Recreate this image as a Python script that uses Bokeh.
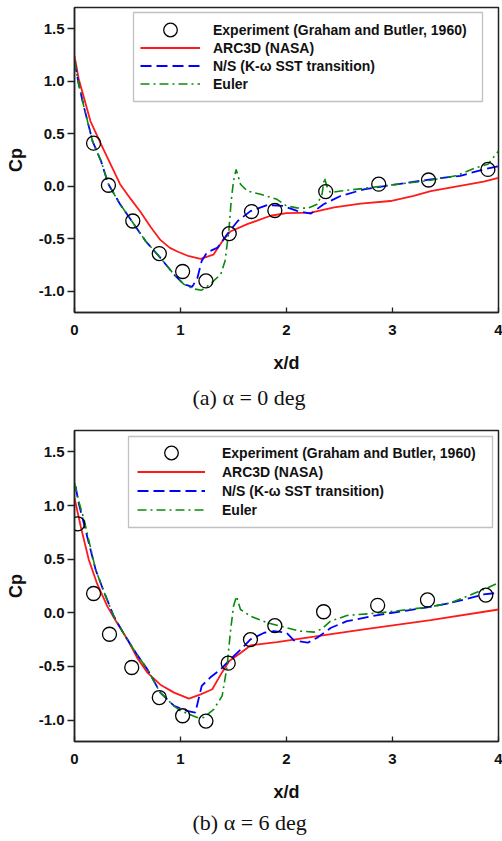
from bokeh.plotting import figure
from bokeh.layouts import column
from bokeh.models import (Range1d, Legend, LegendItem, Title, FixedTicker, PrintfTickFormatter,
                          BoxAnnotation)
from bokeh.embed import file_html
from bokeh.resources import INLINE

# ---------------- data: panel (a) alpha = 0 deg ----------------
exp_a_x = [0.18, 0.32, 0.55, 0.80, 1.02, 1.24, 1.46, 1.67, 1.89, 2.37, 2.87, 3.34, 3.90]
exp_a_y = [0.41, 0.01, -0.33, -0.64, -0.81, -0.90, -0.45, -0.24, -0.23, -0.05, 0.02, 0.06, 0.16]

arc_a_x = [0.00, 0.04, 0.09, 0.15, 0.25, 0.34, 0.43, 0.53, 0.62, 0.72, 0.81, 0.90, 0.97, 1.08, 1.19,
           1.31, 1.39, 1.47, 1.63, 1.85, 2.00, 2.23, 2.45, 2.70, 2.98, 3.20, 3.36, 3.61, 3.86, 4.00]
arc_a_y = [1.24, 1.02, 0.84, 0.62, 0.40, 0.21, 0.02, -0.12, -0.24, -0.39, -0.51, -0.585, -0.62, -0.665, -0.69,
           -0.65, -0.53, -0.43, -0.36, -0.28, -0.255, -0.25, -0.20, -0.165, -0.14, -0.092, -0.045, 0.00, 0.045, 0.08]

ns_a_x = [0.00, 0.04, 0.09, 0.17, 0.25, 0.32, 0.43, 0.54, 0.67, 0.81, 0.94, 1.03, 1.11, 1.16, 1.20, 1.25,
          1.35, 1.44, 1.54, 1.66, 1.82, 1.97, 2.10, 2.23, 2.35, 2.51, 2.73, 3.04, 3.36, 3.64, 3.86, 4.00]
ns_a_y = [1.19, 0.97, 0.75, 0.43, 0.24, 0.02, -0.17, -0.33, -0.52, -0.68, -0.84, -0.93, -0.956, -0.87, -0.71, -0.63,
          -0.583, -0.456, -0.33, -0.236, -0.178, -0.187, -0.234, -0.26, -0.171, -0.092, -0.029, 0.019, 0.066, 0.10, 0.16, 0.19]

eu_a_x = [0.00, 0.04, 0.09, 0.17, 0.25, 0.32, 0.43, 0.54, 0.67, 0.81, 0.94, 1.03, 1.12, 1.20, 1.28, 1.38,
          1.42, 1.456, 1.478, 1.50, 1.525, 1.566, 1.63, 1.755, 1.91, 2.00, 2.10, 2.20, 2.29, 2.335, 2.358,
          2.38, 2.415, 2.51, 2.73, 3.04, 3.36, 3.60, 3.77, 3.90, 4.00]
eu_a_y = [1.19, 0.97, 0.75, 0.43, 0.24, 0.02, -0.17, -0.33, -0.52, -0.68, -0.84, -0.93, -0.975, -0.988, -0.93, -0.836,
          -0.71, -0.425, -0.14, 0.05, 0.16, 0.02, -0.045, -0.076, -0.124, -0.187, -0.205, -0.209, -0.171, -0.076, 0.082,
          0.003, -0.06, -0.045, -0.02, 0.019, 0.057, 0.10, 0.17, 0.21, 0.335]

# ---------------- data: panel (b) alpha = 6 deg ----------------
exp_b_x = [0.03, 0.18, 0.33, 0.54, 0.80, 1.02, 1.24, 1.45, 1.66, 1.89, 2.35, 2.86, 3.33, 3.88]
exp_b_y = [0.83, 0.18, -0.20, -0.51, -0.79, -0.96, -1.01, -0.47, -0.25, -0.12, 0.01, 0.07, 0.12, 0.165]

arc_b_x = [0.00, 0.06, 0.135, 0.21, 0.31, 0.40, 0.50, 0.59, 0.69, 0.81, 0.94, 1.08, 1.19, 1.30, 1.39,
           1.46, 1.57, 1.66, 1.91, 2.26, 2.73, 3.36, 4.00]
arc_b_y = [1.07, 0.80, 0.495, 0.28, 0.06, -0.093, -0.248, -0.418, -0.56, -0.67, -0.744, -0.80, -0.76, -0.713, -0.558,
           -0.45, -0.372, -0.304, -0.273, -0.223, -0.155, -0.068, 0.031]

ns_b_x = [0.01, 0.04, 0.12, 0.20, 0.28, 0.37, 0.48, 0.59, 0.69, 0.81, 0.94, 1.06, 1.14, 1.17, 1.20, 1.28, 1.38,
          1.47, 1.57, 1.66, 1.79, 1.88, 2.00, 2.07, 2.20, 2.29, 2.42, 2.57, 2.89, 3.36, 3.55, 3.86, 3.99]
ns_b_y = [1.18, 1.02, 0.71, 0.40, 0.19, -0.03, -0.22, -0.39, -0.53, -0.744, -0.868, -0.914, -0.93, -0.806, -0.682,
          -0.604, -0.527, -0.434, -0.341, -0.248, -0.186, -0.171, -0.186, -0.257, -0.279, -0.232, -0.139, -0.078,
          -0.016, 0.056, 0.093, 0.171, 0.186]

eu_b_x = [0.00, 0.04, 0.09, 0.20, 0.28, 0.37, 0.48, 0.59, 0.69, 0.81, 0.94, 1.00, 1.157, 1.22, 1.314, 1.393,
          1.44, 1.47, 1.50, 1.528, 1.566, 1.66, 1.82, 2.00, 2.13, 2.26, 2.335, 2.415, 2.57, 2.89, 3.36, 3.55, 3.86, 4.00]
eu_b_y = [1.21, 1.04, 0.87, 0.40, 0.19, -0.03, -0.22, -0.39, -0.53, -0.745, -0.87, -0.914, -0.976, -0.976, -0.90,
          -0.775, -0.496, -0.186, 0.061, 0.155, 0.031, -0.031, -0.093, -0.14, -0.171, -0.18, -0.149, -0.078, -0.025,
          0.0, 0.056, 0.093, 0.217, 0.28]

x_ticks = [0, 1, 2, 3, 4]
y_ticks = [-1.0, -0.5, 0.0, 0.5, 1.0, 1.5]
legend_labels = ["Experiment (Graham and Butler, 1960)", "ARC3D (NASA)",
                 "N/S (K-\u03c9 SST transition)", "Euler"]
captions = ["(a) \u03b1 = 0 deg", "(b) \u03b1 = 6 deg"]

FONT = "Liberation Sans"


def make_panel(exp_x, exp_y, arc_x, arc_y, ns_x, ns_y, eu_x, eu_y, caption,
               height, top, bottom, box, leg_loc, glyph_w, standoff, spacing, cap_standoff):
    p = figure(width=502, height=height, x_range=Range1d(0, 4), y_range=Range1d(-1.2, 1.7),
               output_backend="svg", toolbar_location=None,
               min_border_left=74, min_border_right=4, min_border_top=top, min_border_bottom=bottom)
    p.grid.visible = False
    p.outline_line_color = "#222222"
    p.outline_line_width = 1.5
    p.background_fill_color = "white"
    p.border_fill_color = "white"

    r_arc = p.line(arc_x, arc_y, line_color="#ff1a1a", line_width=1.8)
    r_ns = p.line(ns_x, ns_y, line_color="#0000ff", line_width=1.8, line_dash="11 5")
    r_eu = p.line(eu_x, eu_y, line_color="#0a8a0a", line_width=1.6, line_dash="9 4 2 4")
    r_exp = p.ellipse(x=exp_x, y=exp_y, width=14, height=14, width_units="screen",
                      height_units="screen", fill_color=None, line_color="black", line_width=1.3)

    for ax in (p.xaxis[0], p.yaxis[0]):
        ax.axis_line_color = "#222222"
        ax.axis_line_width = 1.5
        ax.major_tick_line_color = "#222222"
        ax.major_tick_line_width = 1.3
        ax.minor_tick_line_color = None
        ax.major_label_text_font = FONT
        ax.major_label_text_font_style = "bold"
        ax.major_label_text_font_size = "15px"
        ax.major_label_text_color = "#111111"
        ax.axis_label_text_font = FONT
        ax.axis_label_text_font_style = "bold"
        ax.axis_label_text_font_size = "18px"
        ax.axis_label_text_color = "#111111"

    p.xaxis.ticker = FixedTicker(ticks=x_ticks)
    p.xaxis.major_tick_in = 5
    p.xaxis.major_tick_out = 0
    p.xaxis.major_label_standoff = 12
    p.xaxis.axis_label = "x/d"
    p.xaxis.axis_label_standoff = 15

    p.yaxis.ticker = FixedTicker(ticks=y_ticks)
    p.yaxis.formatter = PrintfTickFormatter(format="%.1f")
    p.yaxis.major_tick_in = 0
    p.yaxis.major_tick_out = 7
    p.yaxis.major_label_standoff = 3
    p.yaxis.axis_label = "Cp"
    p.yaxis.axis_label_standoff = 10

    # legend frame (white box with a dark border) in canvas pixels
    p.add_layout(BoxAnnotation(left=box[0], right=box[1], top=box[2], bottom=box[3],
                               left_units="canvas", right_units="canvas",
                               top_units="canvas", bottom_units="canvas",
                               fill_color="white", fill_alpha=1.0,
                               line_color="#333333", line_width=1.3, level="annotation"))

    legend = Legend(items=[
        LegendItem(label=legend_labels[0], renderers=[r_exp]),
        LegendItem(label=legend_labels[1], renderers=[r_arc]),
        LegendItem(label=legend_labels[2], renderers=[r_ns]),
        LegendItem(label=legend_labels[3], renderers=[r_eu]),
    ], location=leg_loc)
    legend.label_text_font = FONT
    legend.label_text_font_style = "bold"
    legend.label_text_font_size = "14px"
    legend.label_text_color = "#111111"
    legend.glyph_width = glyph_w
    legend.glyph_height = 17
    legend.label_height = 16
    legend.label_standoff = standoff
    legend.spacing = spacing
    legend.padding = 0
    legend.margin = 0
    legend.border_line_color = None
    legend.background_fill_alpha = 0.0
    p.add_layout(legend, "center")

    t = Title(text=caption, align="left", vertical_align="top", text_font="Liberation Serif",
              text_font_size="22px", text_font_style="normal", text_color="#111111",
              offset=118, standoff=cap_standoff)
    p.add_layout(t, "below")
    return p


p1 = make_panel(exp_a_x, exp_a_y, arc_a_x, arc_a_y, ns_a_x, ns_a_y, eu_a_x, eu_a_y, captions[0],
                height=420, top=7, bottom=108, box=(133, 482, 12, 101),
                leg_loc=(66, 220), glyph_w=60, standoff=13, spacing=1, cap_standoff=18)
p2 = make_panel(exp_b_x, exp_b_y, arc_b_x, arc_b_y, ns_b_x, ns_b_y, eu_b_x, eu_b_y, captions[1],
                height=421, top=10, bottom=99, box=(128, 492, 16, 107),
                leg_loc=(63, 223), glyph_w=68, standoff=17, spacing=2, cap_standoff=10)

layout = column(p1, p2, spacing=0)
open("out.html", "w").write(file_html(layout, INLINE))
